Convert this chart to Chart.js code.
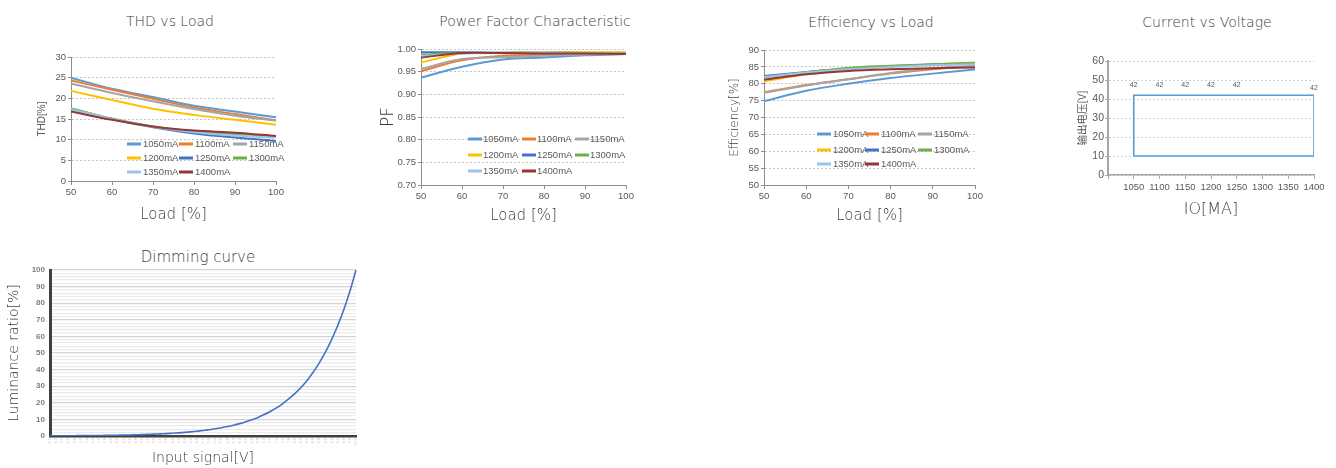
<!DOCTYPE html>
<html><head><meta charset="utf-8">
<script src="https://cdn.jsdelivr.net/npm/chart.js@4.4.1/dist/chart.umd.min.js"></script>
<style>
body{margin:0;background:#fff;width:1336px;height:468px;position:relative;overflow:hidden;}
canvas{position:absolute;}
.ttl{position:absolute;font-family:"DejaVu Sans",sans-serif;font-weight:200;color:#3c3c3c;white-space:nowrap;transform:translate(-50%,-50%);}
</style></head><body>
<div class="ttl" style="left:170px;top:21px;font-size:14px">THD vs Load</div>
<div class="ttl" style="left:535px;top:21px;font-size:14px">Power Factor Characteristic</div>
<div class="ttl" style="left:871px;top:22px;font-size:14px">Efficiency vs Load</div>
<div class="ttl" style="left:1207px;top:22px;font-size:14px">Current vs Voltage</div>
<div class="ttl" style="left:198px;top:257px;font-size:15px">Dimming curve</div>
<canvas id="thd" width="334" height="232" style="left:0;top:0"></canvas>
<canvas id="pf" width="334" height="232" style="left:334px;top:0"></canvas>
<canvas id="eff" width="334" height="232" style="left:668px;top:0"></canvas>
<canvas id="cv" width="334" height="232" style="left:1002px;top:0"></canvas>
<canvas id="dim" width="370" height="228" style="left:0;top:240px"></canvas>
<script>
// ---------- data ----------
const seriesNames = ['1050mA','1100mA','1150mA','1200mA','1250mA','1300mA','1350mA','1400mA'];
const loadLabels = ['50','60','70','80','90','100'];

const thd1050 = [25.0,22.3,20.3,18.2,16.8,15.4];
const thd1100 = [24.3,22.1,19.9,17.8,16.2,14.7];
const thd1150 = [23.6,21.3,19.3,17.4,15.8,14.6];
const thd1200 = [21.8,19.6,17.5,16.0,14.8,13.6];
const thd1250 = [17.5,15.0,13.0,11.5,10.5,9.7];
const thd1300 = [17.6,15.1,13.2,12.0,11.4,10.8];
const thd1350 = [17.4,15.0,13.1,11.8,11.0,10.5];
const thd1400 = [16.8,14.8,13.2,12.2,11.7,10.9];

const pf1050 = [0.937,0.961,0.977,0.981,0.986,0.989];
const pf1100 = [0.951,0.975,0.985,0.987,0.988,0.989];
const pf1150 = [0.956,0.978,0.982,0.985,0.988,0.990];
const pf1200 = [0.970,0.990,0.991,0.992,0.993,0.993];
const pf1250 = [0.993,0.993,0.992,0.992,0.991,0.991];
const pf1300 = [0.988,0.991,0.992,0.992,0.991,0.991];
const pf1350 = [0.985,0.990,0.991,0.991,0.990,0.990];
const pf1400 = [0.981,0.991,0.991,0.990,0.990,0.989];

const eff1050 = [74.8,77.9,80.0,81.7,83.0,84.2];
const eff1100 = [77.5,79.6,81.3,83.0,84.3,85.2];
const eff1150 = [77.3,79.5,81.3,83.2,84.5,85.4];
const eff1200 = [80.8,82.8,84.3,85.0,85.7,86.3];
const eff1250 = [82.3,83.5,84.5,85.2,85.7,86.0];
const eff1300 = [81.8,83.4,84.7,85.3,85.8,86.1];
const eff1350 = [82.0,83.3,84.3,85.0,85.5,85.8];
const eff1400 = [81.2,82.8,83.8,84.3,84.6,84.8];

const cvCurrent = [1050,1100,1150,1200,1250,1300,1350,1400];
const cvVoltage = [42,42,42,42,42,42,42,42];
const cvMinVoltage = 10;
const cvShowLabel = [1,1,1,1,1,0,0,1];

const dimSignal = ['0.0','0.2','0.4','0.6','0.8','1.0','1.2','1.4','1.6','1.8','2.0','2.2','2.4','2.6','2.8','3.0','3.2','3.4','3.6','3.8','4.0','4.2','4.4','4.6','4.8','5.0','5.2','5.4','5.6','5.8','6.0','6.2','6.4','6.6','6.8','7.0','7.2','7.4','7.6','7.8','8.0','8.2','8.4','8.6','8.8','9.0','9.2','9.4','9.6','9.8','10.0'];
const dimLuminance = [0.11,0.12,0.14,0.16,0.19,0.21,0.25,0.28,0.32,0.37,0.42,0.49,0.56,0.64,0.73,0.84,0.96,1.10,1.26,1.45,1.66,1.90,2.18,2.50,2.87,3.29,3.77,4.32,4.95,5.67,6.50,7.46,8.55,9.80,11.2,12.9,14.8,16.9,19.4,22.3,25.5,29.2,33.5,38.4,44.1,50.5,57.9,66.4,76.1,87.2,100];

// ---------- styling ----------
const palette = ['#5B9BD5','#ED7D31','#A5A5A5','#FFC000','#4472C4','#70AD47','#9DC3E6','#953735'];
const SANS = '"Liberation Sans",Arial,sans-serif';
const TXT = '#595959';
const TTL = '#3c3c3c';

const gridLegend = {
  id:'gridLegend',
  afterDraw(chart, args, o){
    if(!o || o.x === undefined) return;
    const ctx = chart.ctx;
    ctx.save();
    ctx.font = o.font; ctx.textBaseline = 'middle'; ctx.textAlign = 'left';
    chart.data.datasets.forEach((ds,i)=>{
      const c = i % 3, r = Math.floor(i/3);
      const x = o.x + o.cols[c], y = o.rows[r];
      ctx.strokeStyle = ds.borderColor; ctx.lineWidth = 3;
      ctx.beginPath(); ctx.moveTo(x,y); ctx.lineTo(x+14,y); ctx.stroke();
      ctx.fillStyle = TXT; ctx.fillText(ds.label, x+o.textOff, y+0.5);
    });
    ctx.restore();
  }
};

function makeLoad(id, series, L){
  return new Chart(document.getElementById(id), {
    type:'line',
    data:{labels:loadLabels, datasets: series.map((d,i)=>({label:seriesNames[i], data:d, borderColor:palette[i], backgroundColor:palette[i], borderWidth:2, pointRadius:0, tension:0.35, order:7-i}))},
    options:{
      responsive:false, animation:false, events:[],
      layout:{padding:{top:L.top, right:L.right, left:0, bottom:0}},
      plugins:{legend:{display:false}, tooltip:{enabled:false}, title:{display:false}, gridLegend:L.legend},
      scales:{
        x:{
          grid:{drawOnChartArea:false, drawTicks:true, tickLength:4, color:'#8c8c8c'},
          border:{color:'#8c8c8c', width:1},
          ticks:{color:TXT, font:{family:SANS, size:9.5}, padding:2, maxRotation:0, autoSkip:false},
          title:{display:true, text:'Load [%]', color:TTL, font:{family:'DejaVu Sans', size:15, weight:200}, padding:{top:0, bottom:L.xTitlePad}},
          afterFit:s=>{s.height = L.xh;}
        },
        y:{
          min:L.min, max:L.max,
          ticks:{stepSize:L.step, color:TXT, font:{family:SANS, size:9.5}, padding:2, callback:L.fmt},
          grid:{color:'#c4c4c4', tickLength:3, tickColor:'#8c8c8c'},
          border:{color:'#8c8c8c', width:1, dash:[2,2]},
          title:{display:true, text:L.yTitle, color:L.yColor, font:{family:L.yFam, size:L.yFont, weight:L.yWeight}, padding:{top:L.yTitlePad, bottom:0}},
          afterFit:s=>{s.width = L.yw;}
        }
      }
    },
    plugins:[gridLegend]
  });
}

makeLoad('thd', [thd1050,thd1100,thd1150,thd1200,thd1250,thd1300,thd1350,thd1400], {
  top:57, right:58, yw:71, xh:51, min:0, max:30, step:5, fmt:v=>v,
  yTitle:'THD[%]', yFam:SANS, yFont:10, yWeight:400, yColor:TXT, yTitlePad:36, xTitlePad:8,
  legend:{x:127, cols:[0,52,106], rows:[144,158,172], textOff:16, font:'9.5px '+SANS}
});
makeLoad('pf', [pf1050,pf1100,pf1150,pf1200,pf1250,pf1300,pf1350,pf1400], {
  top:49, right:42, yw:87, xh:47, min:0.70, max:1.00, step:0.05, fmt:v=>Number(v).toFixed(2),
  yTitle:'PF', yFam:'DejaVu Sans', yFont:17, yWeight:200, yColor:TTL, yTitlePad:44, xTitlePad:7,
  legend:{x:134, cols:[0,54,107], rows:[139,155,171], textOff:15, font:'9.5px '+SANS}
});
makeLoad('eff', [eff1050,eff1100,eff1150,eff1200,eff1250,eff1300,eff1350,eff1400], {
  top:50, right:27, yw:96, xh:47, min:50, max:90, step:5, fmt:v=>v,
  yTitle:'Efficiency[%]', yFam:'DejaVu Sans', yFont:12, yWeight:200, yColor:TTL, yTitlePad:60, xTitlePad:7,
  legend:{x:149, cols:[0,48,101], rows:[134,150,164], textOff:16, font:'9.5px '+SANS}
});

// ---------- current vs voltage ----------
const cvLabels = {
  id:'cvLabels',
  afterDatasetsDraw(chart){
    const ctx = chart.ctx, xs = chart.scales.x, ys = chart.scales.y;
    ctx.save();
    ctx.font = '7px ' + SANS; ctx.fillStyle = TXT;
    ctx.textAlign = 'center'; ctx.textBaseline = 'middle';
    cvCurrent.forEach((c,i)=>{
      if(!cvShowLabel[i]) return;
      const dy = (i === cvCurrent.length-1) ? 7 : 10;
      ctx.fillText(String(cvVoltage[i]), xs.getPixelForValue(c), ys.getPixelForValue(cvVoltage[i]) - dy);
    });
    ctx.restore();
  }
};
const cvOutline = [{x:cvCurrent[0], y:cvMinVoltage}]
  .concat(cvCurrent.map((c,i)=>({x:c, y:cvVoltage[i]})))
  .concat([{x:cvCurrent[cvCurrent.length-1], y:cvMinVoltage}, {x:cvCurrent[0], y:cvMinVoltage}]);
new Chart(document.getElementById('cv'), {
  type:'scatter',
  data:{datasets:[{data:cvOutline, showLine:true, borderColor:'#5B9BD5', borderWidth:1.6, pointRadius:0, tension:0, fill:false}]},
  options:{
    responsive:false, animation:false, events:[],
    layout:{padding:{top:61, right:22, left:0, bottom:0}},
    plugins:{legend:{display:false}, tooltip:{enabled:false}},
    scales:{
      x:{type:'linear', min:1000, max:1400,
        grid:{drawOnChartArea:false, tickLength:4, color:'#a6a6a6'},
        border:{color:'#a6a6a6', width:1.5},
        ticks:{stepSize:50, color:TXT, font:{family:SANS, size:9.5}, padding:3, maxRotation:0, autoSkip:false, callback:v=> v===1000 ? '' : v},
        title:{display:true, text:'IO[MA]', color:TTL, font:{family:'DejaVu Sans', size:16, weight:200}, padding:{top:0,bottom:13}},
        afterFit:s=>{s.height = 57;}
      },
      y:{min:0, max:60,
        grid:{color:'#cfcfcf', tickLength:3, tickColor:'#a6a6a6'},
        border:{color:'#a6a6a6', width:2, dash:[2,2]},
        ticks:{stepSize:10, color:TXT, font:{family:SANS, size:10.5}, padding:1},
        title:{display:true, text:'输出电压[V]', color:TXT, font:{family:'"Noto Sans CJK SC"', size:10.5}, padding:{top:74,bottom:0}},
        afterFit:s=>{s.width = 106;}
      }
    }
  },
  plugins:[cvLabels]
});

// ---------- dimming curve ----------
new Chart(document.getElementById('dim'), {
  type:'line',
  data:{labels:dimSignal, datasets:[{data:dimLuminance, borderColor:'#4472C4', borderWidth:1.6, pointRadius:0, tension:0.3}]},
  options:{
    responsive:false, animation:false, events:[],
    layout:{padding:{top:30, right:14, left:0, bottom:0}},
    plugins:{legend:{display:false}, tooltip:{enabled:false}},
    scales:{
      x:{
        grid:{display:false, drawTicks:false},
        border:{color:'#404040', width:2.5},
        ticks:{color:'#c8c8c8', font:{family:SANS, size:4}, padding:2, minRotation:90, maxRotation:90, autoSkip:false},
        title:{display:true, text:'Input signal[V]', color:TTL, font:{family:'DejaVu Sans', size:14, weight:200}, padding:{top:0,bottom:1}},
        afterFit:s=>{s.height = 32;}
      },
      y:{min:0, max:100,
        grid:{drawTicks:false, lineWidth:1.2, color:c=> (c.tick && c.tick.value % 10 === 0) ? '#d4d4d4' : '#ebebeb'},
        border:{color:'#404040', width:3},
        ticks:{stepSize:2, color:'#7f7f7f', font:{family:SANS, size:8, weight:'bold'}, padding:5, autoSkip:false,
          callback:v=> v % 10 === 0 ? v : ''},
        title:{display:true, text:'Luminance ratio[%]', color:TTL, font:{family:'DejaVu Sans', size:14, weight:200}, padding:{top:6,bottom:0}},
        afterFit:s=>{s.width = 50;}
      }
    }
  }
});
</script>
</body></html>
